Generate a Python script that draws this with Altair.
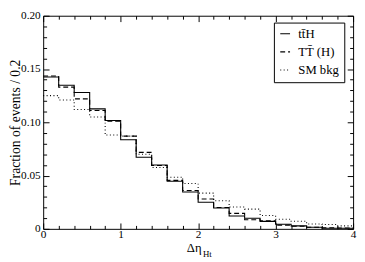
import altair as alt
import pandas as pd

# ---- data ----
edges = [0.0, 0.2, 0.4, 0.6, 0.8, 1.0, 1.2, 1.4, 1.6, 1.8,
         2.0, 2.2, 2.4, 2.6, 2.8, 3.0, 3.2, 3.4, 3.6, 3.8, 4.0]
tth = [0.1425, 0.1347, 0.128, 0.1126, 0.1016, 0.0836, 0.0672, 0.060, 0.0447, 0.0345,
       0.025, 0.0196, 0.012, 0.010, 0.007, 0.0043, 0.0028, 0.0015, 0.0006, 0.0006]
ttp = [0.1435, 0.133, 0.122, 0.111, 0.101, 0.087, 0.0718, 0.0595, 0.0455, 0.036,
       0.028, 0.020, 0.0145, 0.0085, 0.0075, 0.0035, 0.0025, 0.0015, 0.001, 0.0008]
smb = [0.125, 0.121, 0.112, 0.105, 0.088, 0.087, 0.070, 0.0575, 0.0485, 0.0425,
       0.0335, 0.0264, 0.0205, 0.0185, 0.0125, 0.009, 0.0072, 0.0045, 0.004, 0.0028]
series_names = ["tt\u0304H", "TT\u0304 (H)", "SM bkg"]

y_major = [0, 0.05, 0.10, 0.15, 0.20]
y_minor = [0.01, 0.02, 0.03, 0.04, 0.06, 0.07, 0.08, 0.09, 0.11, 0.12, 0.13, 0.14,
           0.16, 0.17, 0.18, 0.19]
x_major = [0, 1, 2, 3, 4]
x_minor = [0.2, 0.4, 0.6, 0.8, 1.2, 1.4, 1.6, 1.8, 2.2, 2.4, 2.6, 2.8,
           3.2, 3.4, 3.6, 3.8]

rows = []
for name, vals in zip(series_names, [tth, ttp, smb]):
    for x, v in zip(edges, vals + [vals[-1]]):
        rows.append({"x": x, "y": v, "series": name})
df = pd.DataFrame(rows)

LEFT, TOP = 36, 5          # plot origin inside the svg (page margin adds 8)
W, H = 317, 218
FONT = "Liberation Serif"
xs = alt.Scale(domain=[0, 4], nice=False, zero=False)
ys = alt.Scale(domain=[0, 0.2], nice=False)


def tick_axis(orient, values, size, offset):
    return alt.Axis(orient=orient, values=values, labels=False, title=None,
                    domain=False, grid=False, ticks=True, tickSize=size,
                    tickColor="black", tickWidth=1, offset=offset)


main = alt.Chart(df).mark_line(interpolate="step-after", color="black",
                               strokeWidth=1.1).encode(
    x=alt.X("x:Q", scale=xs, axis=alt.Axis(
        orient="bottom", values=x_major, ticks=False, tickSize=0, domain=False,
        grid=False, labelFont=FONT, labelFontSize=11.5, labelColor="black",
        labelPadding=0, labelFlush=False,
        title="\u0394\u03b7", titleFont=FONT, titleFontSize=13,
        titleFontWeight="normal", titleColor="black", titleX=154, titleY=23.5,
        titleAlign="center", titleBaseline="alphabetic")),
    y=alt.Y("y:Q", scale=ys, axis=alt.Axis(
        orient="left", values=y_major, ticks=False, tickSize=0, domain=False,
        grid=False,
        labelExpr="datum.value == 0 ? '0' : format(datum.value, '.2f')",
        labelFont=FONT, labelFontSize=11.5, labelColor="black", labelPadding=3,
        labelFlush=False,
        title="Fraction of events / 0.2", titleFont=FONT, titleFontSize=14,
        titleFontWeight="normal", titleColor="black", titleX=-28.5, titleY=H / 2,
        titleAngle=270, titleAlign="center", titleBaseline="middle")),
    strokeDash=alt.StrokeDash("series:N", scale=alt.Scale(
        domain=series_names, range=[[1, 0], [5, 3], [1, 2.5]]),
        legend=alt.Legend(orient="none", legendX=236, legendY=7, title=None,
                          symbolType="stroke", symbolSize=100,
                          symbolStrokeWidth=1.1, symbolStrokeColor="black",
                          labelFont=FONT, labelFontSize=13, labelColor="black",
                          labelOffset=7, padding=5, rowPadding=4.5,
                          strokeColor="black", fillColor="white",
                          cornerRadius=0)),
)

helper = alt.Chart(df).mark_line(opacity=0)
l1 = helper.encode(
    x=alt.X("x:Q", scale=xs, axis=tick_axis("top", x_major, 6, -H)),
    y=alt.Y("y:Q", scale=ys, axis=tick_axis("right", y_major, 6, -W)))
l2 = helper.encode(
    x=alt.X("x:Q", scale=xs, axis=tick_axis("top", x_minor, 3.5, -H)),
    y=alt.Y("y:Q", scale=ys, axis=tick_axis("right", y_minor, 3.5, -W)))
l3 = helper.encode(
    x=alt.X("x:Q", scale=xs, axis=tick_axis("bottom", x_major, 6, -H)),
    y=alt.Y("y:Q", scale=ys, axis=tick_axis("left", y_major, 6, -W)))
l4 = helper.encode(
    x=alt.X("x:Q", scale=xs, axis=tick_axis("bottom", x_minor, 3.5, -H)),
    y=alt.Y("y:Q", scale=ys, axis=tick_axis("left", y_minor, 3.5, -W)))

sub = alt.Chart(pd.DataFrame({"t": ["Ht"]})).mark_text(
    font=FONT, fontSize=9, align="left", baseline="alphabetic", color="black"
).encode(text="t:N", x=alt.value(163.5), y=alt.value(H + 29))

chart = alt.layer(main, l1, l2, l3, l4, sub).resolve_axis(
    x="independent", y="independent"
).properties(
    width=W, height=H,
    autosize=alt.AutoSizeParams(type="none"),
    padding={"left": LEFT, "top": TOP, "right": 4, "bottom": 31},
).configure_view(stroke="black", strokeWidth=1)

chart.save("out.html", embed_options={"renderer": "svg", "actions": False})
